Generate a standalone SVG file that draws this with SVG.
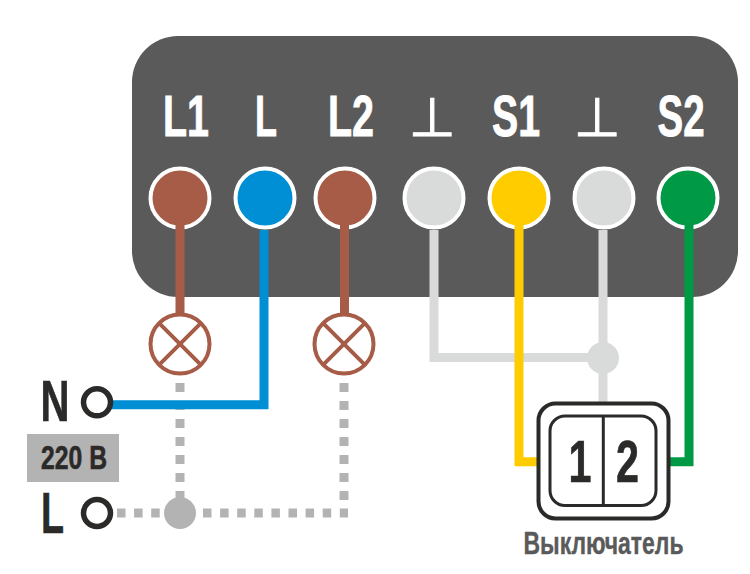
<svg xmlns="http://www.w3.org/2000/svg" width="750" height="574" viewBox="0 0 750 574">
<style>
.w{fill:none;stroke-width:9;stroke-linejoin:miter}
.d{fill:none;stroke:#b2b3b2;stroke-width:9}
.t{fill:#fff;stroke:#fff;stroke-width:.9;font-family:"Liberation Sans Narrow","Liberation Sans",sans-serif;font-weight:700;text-anchor:middle}
.k{fill:#2b2a29;stroke:#2b2a29;stroke-width:.6;font-family:"Liberation Sans Narrow","Liberation Sans",sans-serif;font-weight:700;text-anchor:middle}
.g{fill:#fff;stroke:#fff;stroke-width:.9;font-family:"DejaVu Sans",sans-serif;text-anchor:middle}
.p{stroke:#fff;stroke-width:4}
.lamp{fill:none;stroke:#a65c46;stroke-width:4}
.ring{fill:#fff;stroke:#2b2a29;stroke-width:5.500}
</style>
<rect width="750" height="574" fill="#fff"/>
<g id="panel"><rect x="132" y="36" width="606" height="261" rx="46" fill="#5a5a5a"/></g>
<g id="terminal-L1"><circle class="p" cx="180" cy="198" r="29.5" fill="#a65c46"/><text class="t" x="186" y="136" font-size="58" textLength="46" lengthAdjust="spacingAndGlyphs">L1</text></g>
<g id="terminal-L"><circle class="p" cx="265" cy="198" r="29.5" fill="#008fd5"/><text class="t" x="266" y="136" font-size="58" textLength="22" lengthAdjust="spacingAndGlyphs">L</text></g>
<g id="terminal-L2"><circle class="p" cx="345" cy="198" r="29.5" fill="#a65c46"/><text class="t" x="351" y="136" font-size="58" textLength="46" lengthAdjust="spacingAndGlyphs">L2</text></g>
<g id="terminal-G1"><circle class="p" cx="434" cy="198" r="29.5" fill="#d9dbda"/><text class="g" x="432" y="136" font-size="54">⊥</text></g>
<g id="terminal-S1"><circle class="p" cx="519" cy="198" r="29.5" fill="#ffcc00"/><text class="t" x="516" y="136" font-size="58" textLength="48" lengthAdjust="spacingAndGlyphs">S1</text></g>
<g id="terminal-G2"><circle class="p" cx="604" cy="198" r="29.5" fill="#d9dbda"/><text class="g" x="597" y="136" font-size="54">⊥</text></g>
<g id="terminal-S2"><circle class="p" cx="688" cy="198" r="29.5" fill="#009a46"/><text class="t" x="681" y="136" font-size="58" textLength="47" lengthAdjust="spacingAndGlyphs">S2</text></g>
<g id="connectors">
<path class="d" d="M117 513H165" stroke-dasharray="8.5 8.6"/>
<path class="d" d="M203 513H348" stroke-dasharray="8.5 8.6"/>
<path class="d" d="M180 383V505" stroke-dasharray="9 9"/>
<path class="d" d="M344 383V509" stroke-dasharray="9 9"/>
<path class="w" stroke="#a65c46" d="M180 225V316"/>
<path class="w" stroke="#a65c46" d="M344.500 225V316"/>
<path class="w" stroke="#008fd5" d="M264 230V404.700H110"/>
<path class="w" stroke="#d9dbda" d="M434 230V357.500H603"/>
<path class="w" stroke="#d9dbda" d="M603 230V404"/>
<circle cx="603" cy="358" r="16" fill="#d9dbda"/>
<path class="w" stroke="#ffcc00" d="M519 225V461.700H538"/>
<path class="w" stroke="#009a46" d="M689 225V461.700H668"/>
<circle cx="180" cy="513" r="16" fill="#b2b3b2"/>
</g>
<g id="lamp-1"><circle class="lamp" cx="180" cy="344" r="29.500"/><path class="lamp" d="M159.100 323.100L200.900 364.900M200.900 323.100L159.100 364.900"/></g>
<g id="lamp-2"><circle class="lamp" cx="344" cy="344" r="29.500"/><path class="lamp" d="M323.100 323.100L364.900 364.900M364.900 323.100L323.100 364.900"/></g>
<g id="N"><text class="k" x="55" y="421" font-size="58" textLength="29" lengthAdjust="spacingAndGlyphs">N</text><circle class="ring" cx="97" cy="402.300" r="13.500"/></g>
<g id="voltage"><rect x="27" y="434" width="92" height="48" fill="#b2b3b2"/><text class="k" x="74" y="469" font-size="33" textLength="66" lengthAdjust="spacingAndGlyphs">220 В</text></g>
<g id="L"><text class="k" x="52.500" y="533" font-size="58" textLength="23" lengthAdjust="spacingAndGlyphs">L</text><circle class="ring" cx="97" cy="513" r="13.500"/></g>
<g id="switch">
<rect x="538.500" y="403.500" width="130" height="115" rx="17" fill="#fff" stroke="#2b2a29" stroke-width="4"/>
<rect x="550" y="416" width="106" height="89.500" rx="15" fill="#fff" stroke="#2b2a29" stroke-width="3"/>
<path d="M603.300 416V505.500" stroke="#2b2a29" stroke-width="3"/>
<text class="k" x="580" y="481.500" font-size="60" textLength="23" lengthAdjust="spacingAndGlyphs">1</text>
<text class="k" x="627.500" y="481.500" font-size="60" textLength="23" lengthAdjust="spacingAndGlyphs">2</text>
<text x="603.500" y="554" font-size="31" fill="#5a5a5a" stroke="#5a5a5a" stroke-width=".4" font-weight="700" text-anchor="middle" font-family="'Liberation Sans Narrow','Liberation Sans',sans-serif" textLength="160" lengthAdjust="spacingAndGlyphs">Выключатель</text>
</g>
</svg>
